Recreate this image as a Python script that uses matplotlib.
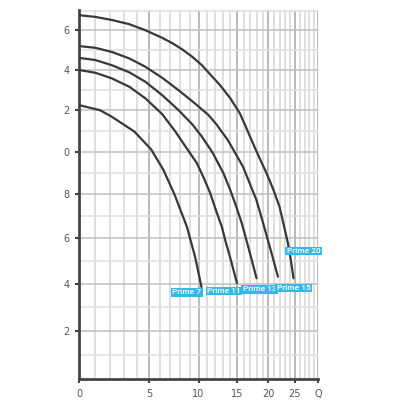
import matplotlib
matplotlib.use("Agg")
import matplotlib.pyplot as plt
import numpy as np

# pump curves (flow Q vs head)
names = ["Prime 7", "Prime 11", "Prime 13", "Prime 15", "Prime 20"]
q_p7 = [0, 1.3, 2.1, 3.8, 5.2, 6.3, 7.4, 8.7, 9.6, 10.35]
h_p7 = [12.24, 11.99, 11.67, 10.95, 10.1, 9.15, 8.0, 6.52, 5.19, 3.86]
q_p11 = [0, 1.0, 2.1, 3.4, 4.7, 6.2, 7.5, 8.0, 9.8, 10.6, 11.4, 12.1, 12.9, 13.4, 14.0, 14.5, 15.0]
h_p11 = [13.98, 13.84, 13.56, 13.14, 12.57, 11.8, 10.95, 10.6, 9.46, 8.78, 8.06, 7.3, 6.52, 5.86, 5.19, 4.6, 4.03]
q_p13 = [0, 1.0, 2.1, 3.4, 4.7, 6.2, 7.8, 9.3, 10.4, 11.7, 13.1, 14.0, 14.9, 15.7, 16.4, 17.2, 18.0]
h_p13 = [14.59, 14.48, 14.22, 13.86, 13.39, 12.73, 12.0, 11.3, 10.71, 9.95, 8.99, 8.24, 7.43, 6.69, 5.93, 5.08, 4.24]
q_p15 = [0, 1.0, 2.1, 3.4, 4.7, 6.2, 7.8, 9.65, 11.2, 12.2, 13.7, 15.9, 16.9, 18.0, 18.9, 19.9, 20.8, 21.7]
h_p15 = [15.19, 15.1, 14.89, 14.56, 14.14, 13.59, 12.98, 12.3, 11.75, 11.3, 10.55, 9.28, 8.52, 7.73, 6.87, 5.93, 5.12, 4.31]
q_p20 = [0, 1.0, 2.1, 3.4, 4.7, 6.2, 7.2, 8.2, 9.3, 10.4, 11.2, 12.6, 14.0, 15.4, 16.3, 17.2, 18.4,
         19.7, 20.9, 22.0, 22.8, 23.6, 24.2, 24.7]
h_p20 = [16.78, 16.69, 16.53, 16.31, 16.0, 15.61, 15.33, 15.02, 14.64, 14.22, 13.85, 13.25, 12.6, 11.85,
         11.2, 10.55, 9.75, 8.97, 8.2, 7.43, 6.6, 5.78, 5.0, 4.24]

x_ticks = [0, 5, 10, 15, 20, 25, 30]
x_labels = ["0", "5", "10", "15", "20", "25", "Q"]
y_ticks = [2, 4, 6, 8, 10, 12, 14, 16]
y_labels = ["2", "4", "6", "8", "0", "2", "4", "6"]  # leading digits are cut off in the original

# where the name tags sit (data coords)
tag_pos = [(8.7, 3.64), (13.2, 3.69), (18.5, 3.77), (24.7, 3.82), (26.8, 5.44)]

fig = plt.figure(figsize=(4, 4), dpi=100)
ax = fig.add_axes([0.1975, 0.0525, 0.5975, 0.9225])

ax.set_xscale('function', functions=(lambda v: np.log(np.asarray(v) + 10.0),
                                     lambda v: np.exp(v) - 10.0))
ax.set_yscale('function', functions=(lambda v: np.log(np.asarray(v) + 60.0),
                                     lambda v: np.exp(v) - 60.0))
ax.set_xlim(0, 30)
ax.set_ylim(0, 17.05)

# grid: every unit, darker on the major ones
for xv in range(1, 31):
    c = '#b4b4b4' if xv % 5 == 0 else '#dcdcdc'
    ax.axvline(xv, color=c, lw=1.3, zorder=0)
for yv in range(1, 18):
    c = '#c0c0c0' if yv % 2 == 0 else '#dedede'
    ax.axhline(yv, color=c, lw=1.1, zorder=0)

curves = [(q_p7, h_p7), (q_p11, h_p11), (q_p13, h_p13), (q_p15, h_p15), (q_p20, h_p20)]
for (q, h) in curves:
    ax.plot(q, h, color='#383838', lw=1.6, zorder=3, solid_capstyle='round', solid_joinstyle='round')

for name, (tx, ty) in zip(names, tag_pos):
    ax.text(tx, ty, name, color='white', fontsize=6.0, fontweight='medium',
            family=['Roboto', 'DejaVu Sans'],
            ha='center', va='center', zorder=5,
            bbox=dict(boxstyle='square,pad=0.17', fc='#35b8e8', ec='none'))

for s in ['top', 'right']:
    ax.spines[s].set_visible(False)
for s in ['left', 'bottom']:
    ax.spines[s].set_color('#444444')
    ax.spines[s].set_linewidth(2)

ax.set_xticks(x_ticks)
ax.set_xticklabels(x_labels)
ax.set_yticks(y_ticks)
ax.set_yticklabels(y_labels)
ax.minorticks_off()
ax.tick_params(axis='both', colors='#444444', labelcolor='#555555', labelsize=7,
               length=3, width=1.5, pad=4)

plt.savefig("out.png", dpi=100)
